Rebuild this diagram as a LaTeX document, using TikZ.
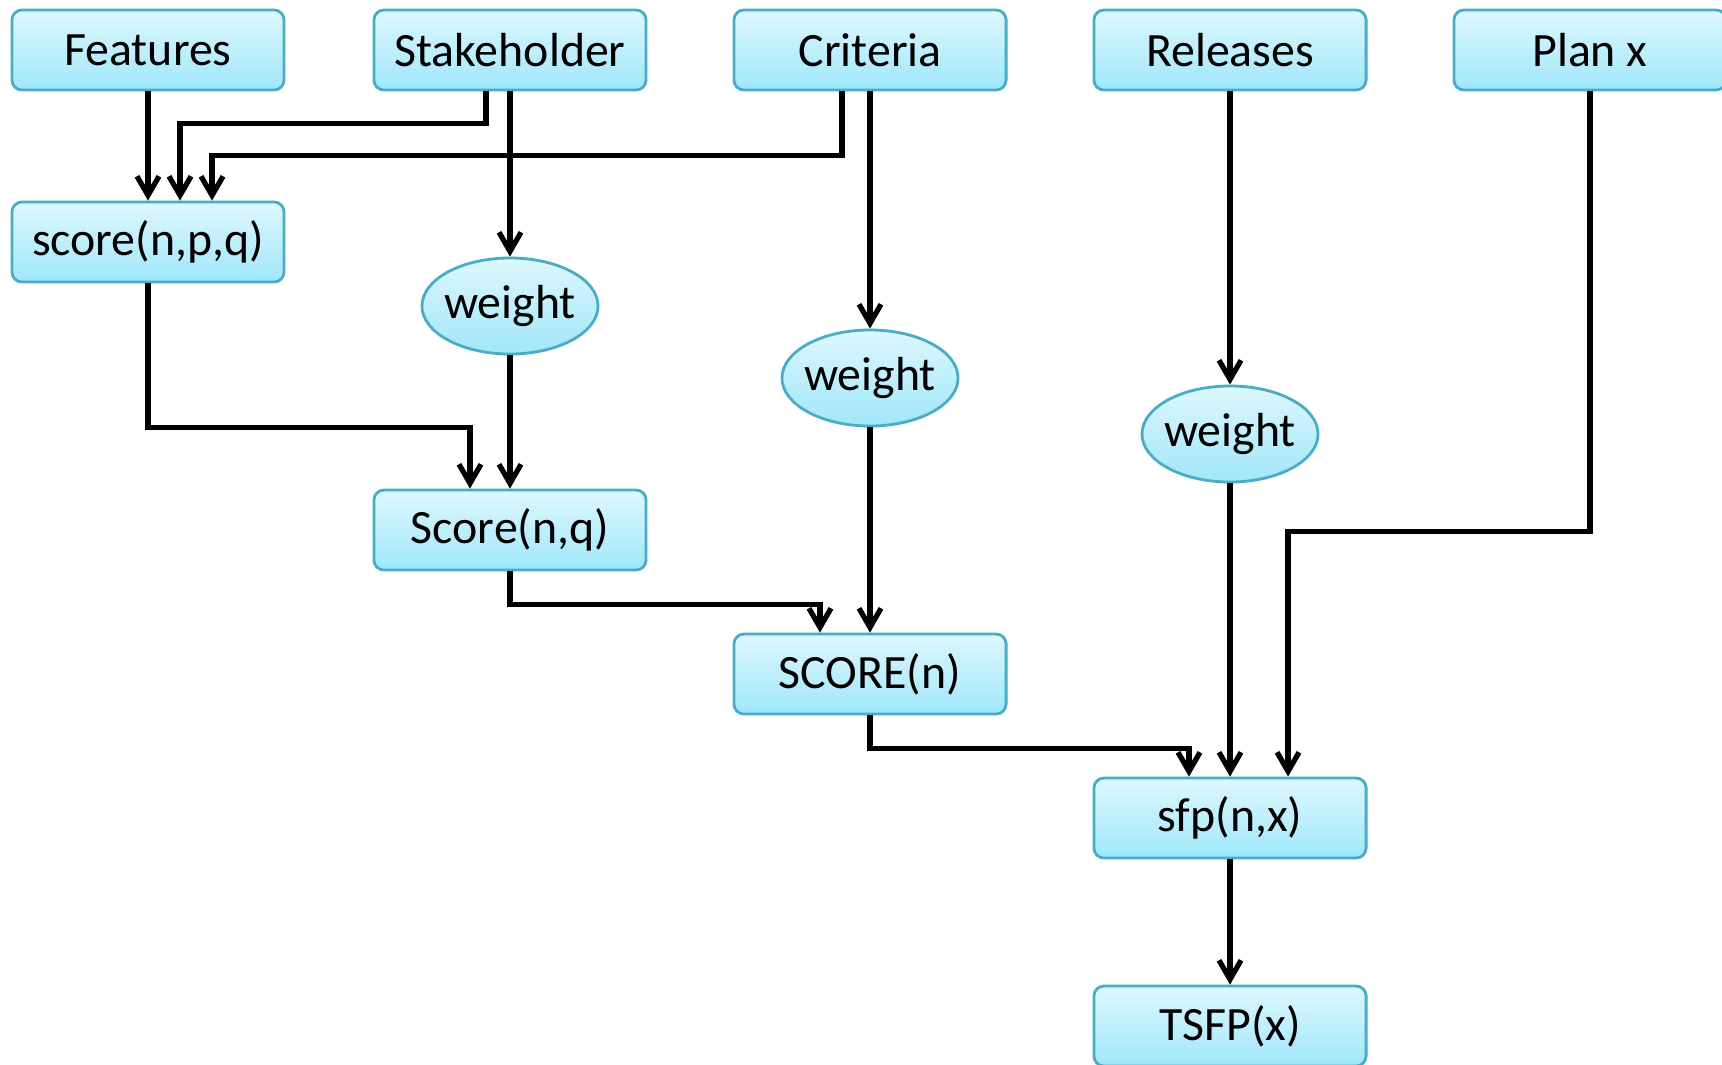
\documentclass[tikz,border=0pt]{standalone}
\usepackage{fontspec}
\setmainfont{Carlito}
\usepackage{tikz}
\usetikzlibrary{shapes.geometric,arrows.meta}
\definecolor{boxline}{RGB}{75,172,198}
\definecolor{boxtop}{RGB}{222,247,254}
\definecolor{boxbottom}{RGB}{160,231,250}
\tikzset{
    block/.style = {draw=boxline, line width=0.8pt, rectangle, rounded corners=0.1cm, top color=boxtop, bottom color=boxbottom, minimum height=0.8cm, minimum width=2.72cm, inner sep=0pt, font=\fontsize{13.6}{16}\selectfont},
    roundblock/.style = {draw=boxline, line width=0.8pt, ellipse, top color=boxtop, bottom color=boxbottom, minimum height=0.96cm, minimum width=1.76cm, inner xsep=-2pt, inner ysep=0pt, font=\fontsize{13.6}{16}\selectfont},
    arrow/.style = {draw, line width=1.5pt, -{Straight Barb[length=0.19cm, width=0.22cm, line width=1.5pt]}},
}

\begin{document}
\begin{tikzpicture}[x=0.01cm, y=-0.01cm]
    \useasboundingbox (0,0) rectangle (1722,1064);
    % top row
    \node [block] (features) at (148,50) {Features};
    \node [block] (stakeholder) at (510,50) {Stakeholder};
    \node [block] (criteria) at (870,50) {Criteria};
    \node [block] (releases) at (1230,50) {Releases};
    \node [block] (plan) at (1590,50) {Plan x};
    % scores and weights
    \node [block] (scorenpq) at (148,242) {score(n,p,q)};
    \node [roundblock] (wstake) at (510,306) {weight};
    \node [block] (scorenq) at (510,530) {Score(n,q)};
    \node [roundblock] (wcrit) at (870,378) {weight};
    \node [block] (scoren) at (870,674) {SCORE(n)};
    \node [roundblock] (wrel) at (1230,434) {weight};
    \node [block] (sfp) at (1230,818) {sfp(n,x)};
    \node [block] (tsfp) at (1230,1026) {TSFP(x)};

    \draw [arrow] (features.south) -- (scorenpq.north);
    \draw [arrow] ([xshift=-0.24cm]stakeholder.south) -- ++(0,32) -| ([xshift=0.32cm]scorenpq.north);
    \draw [arrow] ([xshift=-0.28cm]criteria.south) -- ++(0,64) -| ([xshift=0.64cm]scorenpq.north);
    \draw [arrow] (stakeholder.south) -- (wstake.north);
    \draw [arrow] (scorenpq.south) -- ++(0,144) -| ([xshift=-0.4cm]scorenq.north);
    \draw [arrow] (wstake.south) -- (scorenq.north);
    \draw [arrow] (criteria.south) -- (wcrit.north);
    \draw [arrow] (scorenq.south) -- ++(0,33) -| ([xshift=-0.5cm]scoren.north);
    \draw [arrow] (wcrit.south) -- (scoren.north);
    \draw [arrow] (releases.south) -- (wrel.north);
    \draw [arrow] (wrel.south) -- (sfp.north);
    \draw [arrow] (scoren.south) -- ++(0,33) -| ([xshift=-0.41cm]sfp.north);
    \draw [arrow] (plan.south) -- ++(0,440) -| ([xshift=0.58cm]sfp.north);
    \draw [arrow] (sfp.south) -- (tsfp.north);
\end{tikzpicture}
\end{document}
